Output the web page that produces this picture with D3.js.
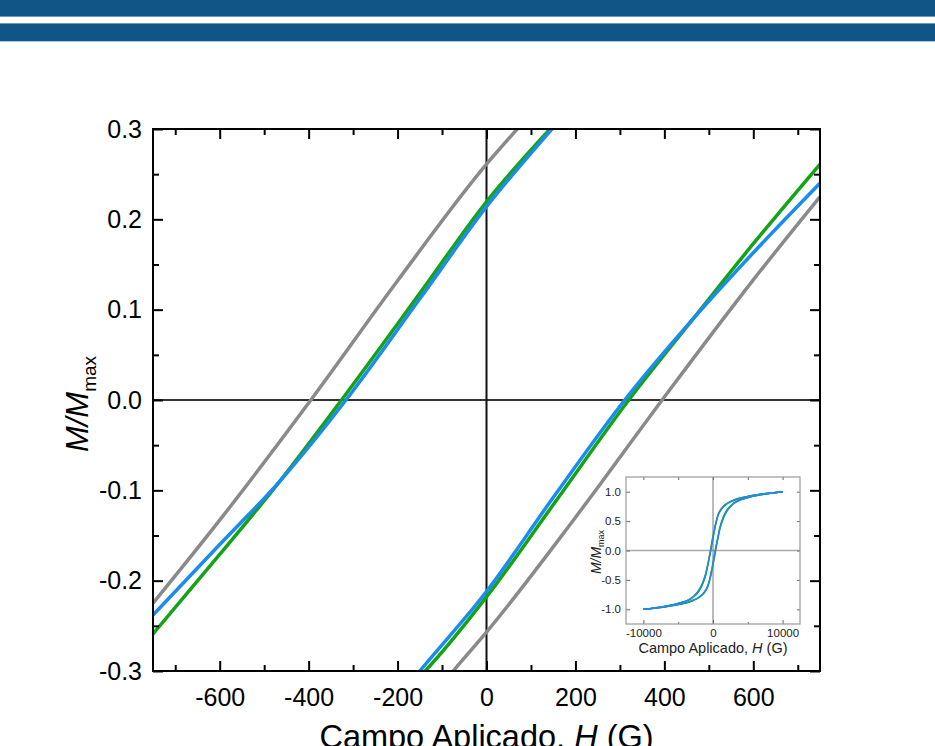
<!DOCTYPE html>
<html>
<head>
<meta charset="utf-8">
<script src="https://cdn.jsdelivr.net/npm/d3@7"></script>
<style>
body { margin: 0; background: #fff; }
svg { display: block; font-family: "Liberation Sans", Arial, sans-serif; }
</style>
</head>
<body>
<div id="chart"></div>
<script>
// main plot: hysteresis branches near the origin (H in G, M/Mmax)
let grayUpH = [-750, -600, -395, -200, 0, 80, 150];
let grayUpM = [-0.225, -0.133, 0, 0.132, 0.261, 0.306, 0.345];
let grayLoH = [-150, -75, 0, 200, 395, 600, 750];
let grayLoM = [-0.345, -0.300, -0.257, -0.130, 0, 0.133, 0.225];

let greenUpH = [-750, -600, -465, -326, -150, 0, 143, 200];
let greenUpM = [-0.259, -0.171, -0.090, 0, 0.118, 0.2195, 0.300, 0.330];
let greenLoH = [-200, -138, 0, 150, 320, 465, 600, 750];
let greenLoM = [-0.330, -0.300, -0.218, -0.116, 0, 0.090, 0.173, 0.261];

let blueUpH = [-750, -600, -465, -316, -150, 0, 147, 200];
let blueUpM = [-0.238, -0.160, -0.090, 0, 0.112, 0.214, 0.300, 0.330];
let blueLoH = [-200, -150, 0, 150, 311, 465, 600, 750];
let blueLoM = [-0.330, -0.300, -0.212, -0.108, 0, 0.090, 0.163, 0.240];

// inset: full loops
let insetH = [-10000, -7000, -5000, -3000, -2000, -1500, -1000, -750, -500, -300, 0, 300, 500, 750, 1000, 1500, 2000, 3000, 5000, 7000, 10000];
let insetBlueUp = [-1.0, -0.95, -0.90, -0.80, -0.67, -0.55, -0.37, -0.24, -0.10, 0.01, 0.21, 0.39, 0.50, 0.60, 0.66, 0.74, 0.79, 0.85, 0.92, 0.96, 1.0];
let insetBlueLo = [-1.0, -0.96, -0.92, -0.85, -0.79, -0.74, -0.66, -0.60, -0.50, -0.39, -0.21, -0.01, 0.10, 0.24, 0.37, 0.55, 0.67, 0.80, 0.90, 0.95, 1.0];
let insetGreenUp = [-1.0, -0.95, -0.90, -0.81, -0.69, -0.58, -0.40, -0.26, -0.11, 0.02, 0.22, 0.40, 0.51, 0.61, 0.67, 0.75, 0.80, 0.86, 0.92, 0.96, 1.0];
let insetGreenLo = [-1.0, -0.96, -0.92, -0.86, -0.80, -0.75, -0.67, -0.61, -0.51, -0.40, -0.22, -0.02, 0.11, 0.26, 0.40, 0.58, 0.69, 0.81, 0.90, 0.95, 1.0];
let insetGrayUp = [-1.0, -0.95, -0.90, -0.80, -0.67, -0.56, -0.38, -0.23, -0.07, 0.06, 0.26, 0.43, 0.52, 0.62, 0.68, 0.75, 0.80, 0.86, 0.92, 0.96, 1.0];
let insetGrayLo = [-1.0, -0.96, -0.92, -0.86, -0.80, -0.75, -0.68, -0.62, -0.52, -0.43, -0.26, -0.06, 0.07, 0.23, 0.38, 0.56, 0.67, 0.80, 0.90, 0.95, 1.0];

let xTicks = [-600, -400, -200, 0, 200, 400, 600];
let xMinor = [-700, -500, -300, -100, 100, 300, 500, 700];
let yTicks = [-0.3, -0.2, -0.1, 0.0, 0.1, 0.2, 0.3];
let yMinor = [-0.25, -0.15, -0.05, 0.05, 0.15, 0.25];
let insetXTicks = [-10000, 0, 10000];
let insetXMinor = [-5000, 5000];
let insetYTicks = [-1.0, -0.5, 0.0, 0.5, 1.0];

let colGray = "#8a8a8a", colGreen = "#14a314", colBlue = "#1a8cf0";

// plain hyphen for negatives, like the original
let fmtInt = d => String(Math.round(d));
let fmt1 = d => (Math.abs(d) < 1e-9 ? 0 : d).toFixed(1);

let width = 935, height = 746;
let svg = d3.select("#chart").append("svg")
  .attr("width", width)
  .attr("height", height);

// banner
let bannerCol = "#0f5585";
svg.append("rect").attr("x", 0).attr("y", 0).attr("width", width).attr("height", 16).attr("fill", bannerCol);
svg.append("rect").attr("x", 0).attr("y", 16).attr("width", width).attr("height", 1).attr("fill", "#6f9cbd");
svg.append("rect").attr("x", 0).attr("y", 23).attr("width", width).attr("height", 1).attr("fill", "#6f9cbd");
svg.append("rect").attr("x", 0).attr("y", 24).attr("width", width).attr("height", 17).attr("fill", bannerCol);
svg.append("rect").attr("x", 0).attr("y", 41).attr("width", width).attr("height", 1).attr("fill", "#a9c4d8");

// main plot
let pL = 153, pR = 820, pT = 129, pB = 671;
let x = d3.scaleLinear().domain([-750, 750]).range([pL, pR]);
let y = d3.scaleLinear().domain([-0.3, 0.3]).range([pB, pT]);

svg.append("clipPath").attr("id", "clipMain")
  .append("rect").attr("x", pL).attr("y", pT).attr("width", pR - pL).attr("height", pB - pT);

let zeroG = svg.append("g");
zeroG.append("line").attr("x1", pL).attr("x2", pR).attr("y1", y(0)).attr("y2", y(0))
  .attr("stroke", "#333").attr("stroke-width", 2);
zeroG.append("line").attr("x1", x(0)).attr("x2", x(0)).attr("y1", pT).attr("y2", pB)
  .attr("stroke", "#111").attr("stroke-width", 2);

let line = d3.line().x(d => x(d[0])).y(d => y(d[1])).curve(d3.curveMonotoneX);
let curves = svg.append("g").attr("clip-path", "url(#clipMain)");
function branch(hs, ms, col) {
  curves.append("path")
    .datum(hs.map((h, i) => [h, ms[i]]))
    .attr("d", line)
    .attr("fill", "none")
    .attr("stroke", col)
    .attr("stroke-width", 3.5);
}
branch(grayUpH, grayUpM, colGray);
branch(grayLoH, grayLoM, colGray);
branch(greenUpH, greenUpM, colGreen);
branch(greenLoH, greenLoM, colGreen);
branch(blueUpH, blueUpM, colBlue);
branch(blueLoH, blueLoM, colBlue);

function styleAxis(g, w) {
  g.select(".domain").remove();
  g.selectAll(".tick line").attr("stroke", "#000").attr("stroke-width", w);
}

let axes = svg.append("g");
let bx = axes.append("g").attr("transform", `translate(0,${pB})`)
  .call(d3.axisBottom(x).tickValues(xTicks).tickSizeInner(-10).tickPadding(17).tickFormat(fmtInt));
styleAxis(bx, 2);
bx.selectAll("text").attr("font-size", 25).attr("fill", "#000").attr("font-family", "Liberation Sans, Arial");
axes.append("g").attr("transform", `translate(0,${pB})`)
  .call(d3.axisBottom(x).tickValues(xMinor).tickSize(-6).tickFormat(""))
  .call(g => styleAxis(g, 2));
axes.append("g").attr("transform", `translate(0,${pT})`)
  .call(d3.axisTop(x).tickValues(xTicks).tickSize(-10).tickFormat(""))
  .call(g => styleAxis(g, 2));
axes.append("g").attr("transform", `translate(0,${pT})`)
  .call(d3.axisTop(x).tickValues(xMinor).tickSize(-6).tickFormat(""))
  .call(g => styleAxis(g, 2));

let ly = axes.append("g").attr("transform", `translate(${pL},0)`)
  .call(d3.axisLeft(y).tickValues(yTicks).tickSizeInner(-10).tickPadding(11).tickFormat(fmt1));
styleAxis(ly, 2);
ly.selectAll("text").attr("font-size", 25).attr("fill", "#000").attr("font-family", "Liberation Sans, Arial");
axes.append("g").attr("transform", `translate(${pL},0)`)
  .call(d3.axisLeft(y).tickValues(yMinor).tickSize(-6).tickFormat(""))
  .call(g => styleAxis(g, 2));
axes.append("g").attr("transform", `translate(${pR},0)`)
  .call(d3.axisRight(y).tickValues(yTicks).tickSize(-10).tickFormat(""))
  .call(g => styleAxis(g, 2));
axes.append("g").attr("transform", `translate(${pR},0)`)
  .call(d3.axisRight(y).tickValues(yMinor).tickSize(-6).tickFormat(""))
  .call(g => styleAxis(g, 2));

svg.append("rect").attr("x", pL).attr("y", pT).attr("width", pR - pL).attr("height", pB - pT)
  .attr("fill", "none").attr("stroke", "#000").attr("stroke-width", 2);

// axis titles
let xt = svg.append("text").attr("x", (pL + pR) / 2).attr("y", 748)
  .attr("text-anchor", "middle").attr("font-size", 32.5).attr("fill", "#000");
xt.append("tspan").text("Campo Aplicado, ");
xt.append("tspan").attr("font-style", "italic").text("H");
xt.append("tspan").text(" (G)");

let yt = svg.append("text").attr("transform", `translate(88,404) rotate(-90)`)
  .attr("text-anchor", "middle").attr("font-size", 31).attr("fill", "#000");
yt.append("tspan").attr("font-style", "italic").text("M/M");
yt.append("tspan").attr("font-size", 19).attr("dy", 8).text("max");

// inset
let iL = 626, iR = 800, iT = 477, iB = 624;
let ix = d3.scaleLinear().domain([-12500, 12500]).range([iL, iR]);
let iy = d3.scaleLinear().domain([-1.25, 1.25]).range([iB, iT]);
let inset = svg.append("g");
inset.append("rect").attr("x", iL).attr("y", iT).attr("width", iR - iL).attr("height", iB - iT)
  .attr("fill", "#fff");
svg.append("clipPath").attr("id", "clipInset")
  .append("rect").attr("x", iL).attr("y", iT).attr("width", iR - iL).attr("height", iB - iT);

inset.append("line").attr("x1", iL).attr("x2", iR).attr("y1", iy(0)).attr("y2", iy(0))
  .attr("stroke", "#aaa").attr("stroke-width", 1.5);
inset.append("line").attr("x1", ix(0)).attr("x2", ix(0)).attr("y1", iT).attr("y2", iB)
  .attr("stroke", "#777").attr("stroke-width", 1);

let iline = d3.line().x(d => ix(d[0])).y(d => iy(d[1])).curve(d3.curveMonotoneX);
let icurves = inset.append("g").attr("clip-path", "url(#clipInset)");
function ibranch(ms, col) {
  icurves.append("path")
    .datum(insetH.map((h, i) => [h, ms[i]]))
    .attr("d", iline)
    .attr("fill", "none")
    .attr("stroke", col)
    .attr("stroke-width", 1.4);
}
ibranch(insetGrayUp, colGray);
ibranch(insetGrayLo, colGray);
ibranch(insetGreenUp, colGreen);
ibranch(insetGreenLo, colGreen);
ibranch(insetBlueUp, colBlue);
ibranch(insetBlueLo, colBlue);

function styleInset(g) {
  g.select(".domain").remove();
  g.selectAll(".tick line").attr("stroke", "#666").attr("stroke-width", 1);
  g.selectAll("text").attr("font-size", 11.5).attr("fill", "#222").attr("font-family", "Liberation Sans, Arial");
}
inset.append("g").attr("transform", `translate(0,${iB})`)
  .call(d3.axisBottom(ix).tickValues(insetXTicks).tickSizeInner(-4).tickPadding(5).tickFormat(fmtInt))
  .call(styleInset);
inset.append("g").attr("transform", `translate(0,${iB})`)
  .call(d3.axisBottom(ix).tickValues(insetXMinor).tickSize(-2).tickFormat(""))
  .call(styleInset);
inset.append("g").attr("transform", `translate(0,${iT})`)
  .call(d3.axisTop(ix).tickValues(insetXTicks.concat(insetXMinor)).tickSize(-3).tickFormat(""))
  .call(styleInset);
inset.append("g").attr("transform", `translate(${iL},0)`)
  .call(d3.axisLeft(iy).tickValues(insetYTicks).tickSizeInner(-4).tickPadding(5).tickFormat(fmt1))
  .call(styleInset);
inset.append("g").attr("transform", `translate(${iR},0)`)
  .call(d3.axisRight(iy).tickValues(insetYTicks).tickSize(-3).tickFormat(""))
  .call(styleInset);
inset.append("rect").attr("x", iL).attr("y", iT).attr("width", iR - iL).attr("height", iB - iT)
  .attr("fill", "none").attr("stroke", "#999").attr("stroke-width", 1.2);

let ixt = inset.append("text").attr("x", ix(0)).attr("y", 653)
  .attr("text-anchor", "middle").attr("font-size", 14.5).attr("fill", "#222");
ixt.append("tspan").text("Campo Aplicado, ");
ixt.append("tspan").attr("font-style", "italic").text("H");
ixt.append("tspan").text(" (G)");

let iyt = inset.append("text").attr("transform", `translate(601,552) rotate(-90)`)
  .attr("text-anchor", "middle").attr("font-size", 14).attr("fill", "#222");
iyt.append("tspan").attr("font-style", "italic").text("M/M");
iyt.append("tspan").attr("font-size", 9).attr("dy", 3).text("max");
</script>
</body>
</html>
